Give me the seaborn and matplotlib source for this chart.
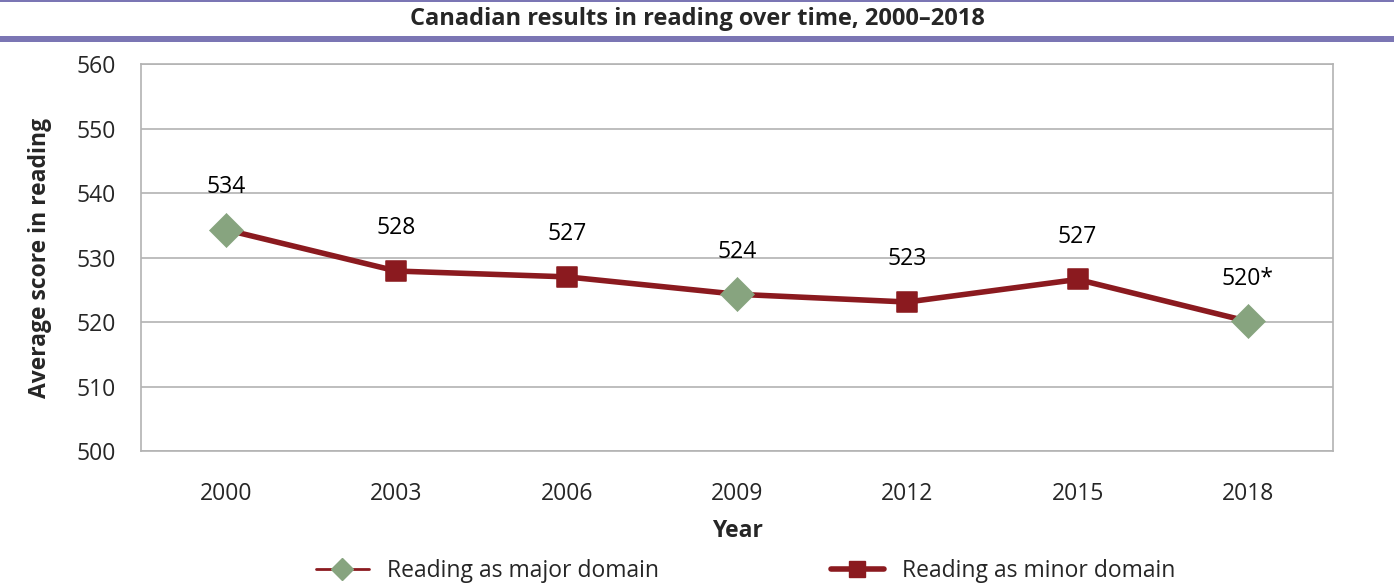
import pandas as pd
import seaborn as sns
import matplotlib.pyplot as plt
from matplotlib.lines import Line2D

# 데이터
years = ['2000', '2003', '2006', '2009', '2012', '2015', '2018']
scores = [534.3, 527.9, 527.0, 524.3, 523.1, 526.6, 520.1]
labels = ['534', '528', '527', '524', '523', '527', '520*']
domain = ['major', 'minor', 'minor', 'major', 'minor', 'minor', 'major']

df = pd.DataFrame({'year': years, 'score': scores, 'label': labels, 'domain': domain})
df['pos'] = range(len(df))

line_col = '#8B1A1F'
green = '#87A47F'
grid_col = '#B3B3B3'
band_col = '#7B76B4'

sns.set_style('white')
plt.rcParams['font.family'] = ['Open Sans', 'DejaVu Sans']

fig = plt.figure(figsize=(13.94, 5.87), dpi=100)
ax = fig.add_axes([141 / 1394, 1 - 451 / 587, 1192 / 1394, 387 / 587])

# 선
sns.lineplot(data=df, x='pos', y='score', color=line_col, linewidth=4, ax=ax, zorder=2)
# 마커
major = df[df['domain'] == 'major']
minor = df[df['domain'] == 'minor']
sns.scatterplot(data=major, x='pos', y='score', marker='D', s=300, color=green,
                edgecolor=green, linewidth=0.5, ax=ax, zorder=3)
sns.scatterplot(data=minor, x='pos', y='score', marker='s', s=200, color=line_col,
                edgecolor=line_col, ax=ax, zorder=3)

# 데이터 라벨
for _, r in df.iterrows():
    ax.annotate(r['label'], (r['pos'], r['score']), xytext=(0, 22), textcoords='offset points',
                ha='center', va='bottom', fontsize=16.5, color='black')

ax.set_xlim(-0.5, 6.5)
ax.set_ylim(500, 560)
ax.set_yticks(range(500, 561, 10))
ax.set_xticks(range(len(years)))
ax.set_xticklabels(years)
ax.set_xticks([i - 0.5 for i in range(len(years) + 1)], minor=True)
ax.tick_params(axis='x', which='major', length=0, labelsize=16.5, pad=22)
ax.tick_params(axis='x', which='minor', length=8, color=grid_col, width=1.2)
ax.tick_params(axis='y', length=8, color=grid_col, width=1.2, labelsize=16.5, pad=10)
ax.grid(axis='y', color=grid_col, linewidth=1.2)
ax.set_axisbelow(True)
for s in ax.spines.values():
    s.set_color(grid_col)
    s.set_linewidth(1.2)
    s.set_visible(True)

ax.set_xlabel('Year', fontsize=16.5, fontweight='bold', labelpad=10)
ax.set_ylabel('Average score in reading', fontsize=16.5, fontweight='bold', labelpad=18)

# 제목 밴드
fig.text(0.5, 1 - 19 / 587, 'Canadian results in reading over time, 2000\u20132018',
         ha='center', va='center', fontsize=17, fontweight='bold')
fig.add_artist(plt.Rectangle((0, 1 - 2 / 587), 1, 2 / 587, transform=fig.transFigure,
                             color=band_col, lw=0))
fig.add_artist(plt.Rectangle((0, 1 - 42 / 587), 1, 6 / 587, transform=fig.transFigure,
                             color=band_col, lw=0))

# 범례
handles = [
    Line2D([0], [0], color=line_col, lw=2, marker='D', markersize=11,
           markerfacecolor=green, markeredgecolor=green),
    Line2D([0], [0], color=line_col, lw=4, marker='s', markersize=11,
           markerfacecolor=line_col, markeredgecolor=line_col),
]
fig.legend(handles, ['Reading as major domain', 'Reading as minor domain'],
           loc='center', bbox_to_anchor=(0.535, 1 - 571 / 587), ncol=2, frameon=False,
           fontsize=16.5, handlelength=2.3, columnspacing=7.5, handletextpad=0.8)

plt.savefig('out.png', dpi=100)
